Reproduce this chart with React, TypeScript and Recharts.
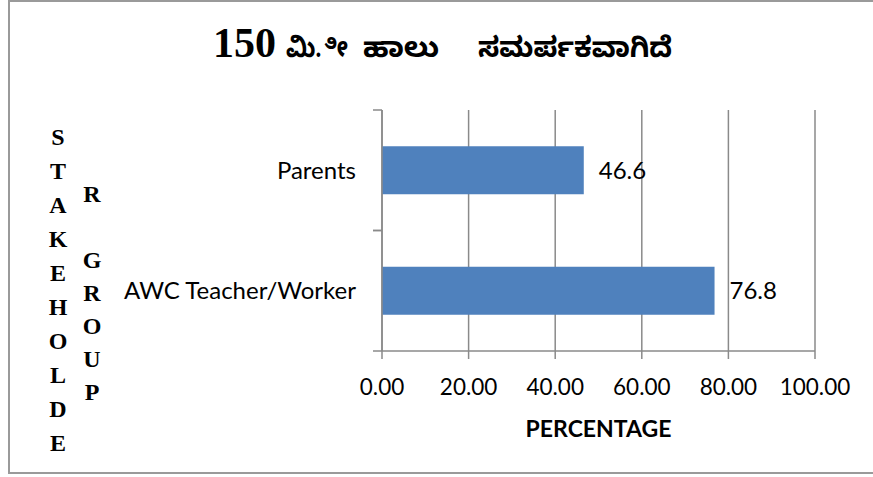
import { BarChart, Bar, XAxis, YAxis, CartesianGrid, LabelList } from 'recharts';

const groups = ['Parents', 'AWC Teacher/Worker'];
const percentages = [46.6, 76.8];
const xTicks = [0, 20, 40, 60, 80, 100];

// title pieces: number, then the three Kannada words
const titleNumber = '150';
const titleWords = ['ಮಿ.\u00A0ೀ', 'ಹಾಲು', 'ಸಮರ್ಪಕವಾಗಿದೆ'];
const titleWordX = [286, 363, 478];
const titleWordW = [62, 76, 194];
const yTitleLeft = ['S', 'T', 'A', 'K', 'E', 'H', 'O', 'L', 'D', 'E'];
const yTitleRight = ['R', '', 'G', 'R', 'O', 'U', 'P'];

const data = groups.map((name, i) => ({ name, value: percentages[i] }));

const gray = '#8a8a8a';
const sans = "Lato, 'Open Sans', sans-serif";
const serif = "'Liberation Serif', 'Noto Sans Kannada', serif";

// category labels sit mid-band, but the tick marks go on the band edges
function GroupTick(props: any) {
    const { x, y, payload } = props;
    const half = payload.offset || 0;
    return (
        <g>
            <line x1={x + 17} x2={x + 26} y1={y - half} y2={y - half} stroke={gray} strokeWidth={1.5} />
            <line x1={x + 17} x2={x + 26} y1={y + half} y2={y + half} stroke={gray} strokeWidth={1.5} />
            <text x={x} y={y} dy="0.35em" textAnchor="end" fontFamily={sans} fontSize={24} fill="#000">
                {payload.value}
            </text>
        </g>
    );
}

export default function App() {
    return (
        <div style={{ position: 'fixed', left: 0, top: 0, width: 873, height: 477, overflow: 'hidden', background: '#fff' }}>
            <div
                style={{
                    position: 'absolute',
                    left: 8,
                    top: 0,
                    width: 900,
                    height: 470,
                    border: '2px solid #9a9a9a',
                }}
            />
            <div style={{ position: 'absolute', left: 0, top: 0 }}>
                <BarChart
                    layout="vertical"
                    width={873}
                    height={477}
                    data={data}
                    margin={{ top: 110, right: 58, left: 0, bottom: 0 }}
                    barCategoryGap="30%"
                >
                    <CartesianGrid horizontal={false} stroke={gray} strokeWidth={1.5} />
                    <XAxis
                        type="number"
                        domain={[0, 100]}
                        ticks={xTicks}
                        tickFormatter={(v) => v.toFixed(2)}
                        height={126}
                        stroke={gray}
                        strokeWidth={1.5}
                        tickSize={8}
                        tickMargin={20}
                        tick={{ fill: '#000', fontSize: 22.5, fontFamily: sans }}
                        label={{
                            value: 'PERCENTAGE',
                            position: 'insideBottom',
                            offset: 40,
                            fill: '#000',
                            fontSize: 23,
                            fontWeight: 'bold',
                            fontFamily: sans,
                        }}
                    />
                    <YAxis
                        type="category"
                        dataKey="name"
                        width={382}
                        stroke={gray}
                        strokeWidth={1.5}
                        tickLine={false}
                        tickSize={9}
                        tickMargin={17}
                        tick={<GroupTick />}
                    />
                    <Bar dataKey="value" fill="#4f81bd" isAnimationActive={false}>
                        <LabelList
                            dataKey="value"
                            position="right"
                            offset={15}
                            fill="#000"
                            fontSize={24}
                            fontFamily={sans}
                        />
                    </Bar>
                </BarChart>
            </div>
            <svg width={873} height={477} style={{ position: 'absolute', left: 0, top: 0, pointerEvents: 'none' }}>
                <text x={213} y={57} fontFamily={serif} fontWeight="bold" fontSize={42} fill="#000">
                    {titleNumber}
                </text>
                {titleWords.map((w, i) => (
                    <text
                        key={w}
                        x={titleWordX[i]}
                        y={57}
                        textLength={titleWordW[i]}
                        lengthAdjust="spacingAndGlyphs"
                        fontFamily={serif}
                        fontWeight="bold"
                        fontSize={28}
                        fill="#000"
                    >
                        {w}
                    </text>
                ))}
                {yTitleLeft.map((ch, i) => (
                    <text key={`l${i}`} x={58} y={137 + i * 34} dy="0.35em" textAnchor="middle" fontFamily={serif} fontWeight="bold" fontSize={24} fill="#000">
                        {ch}
                    </text>
                ))}
                {yTitleRight.map((ch, i) => (
                    <text key={`r${i}`} x={92} y={194 + i * 33} dy="0.35em" textAnchor="middle" fontFamily={serif} fontWeight="bold" fontSize={24} fill="#000">
                        {ch}
                    </text>
                ))}
            </svg>
        </div>
    );
}
